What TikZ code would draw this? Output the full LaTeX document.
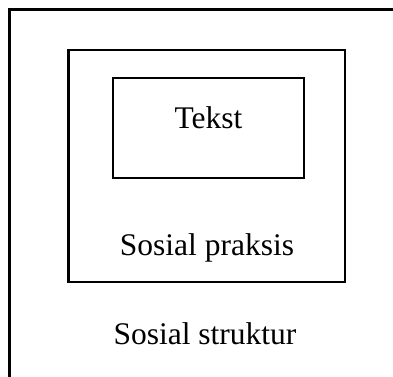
\documentclass[tikz,border=0pt]{standalone}
\usepackage{fontspec}
\setmainfont{Liberation Serif}
\begin{document}
\begin{tikzpicture}[x=1pt,y=-1pt,
  frame/.style={draw=black,line width=2.2pt},
  label/.style={anchor=base,inner sep=0pt,font=\fontsize{31.5}{36}\selectfont}]
  \useasboundingbox (0,0) rectangle (393,376);
  \clip (0,0) rectangle (393,376);
  % outer level: social structure (runs past the page edge)
  \draw[frame] (9.5,9.5) rectangle (420,420);
  % middle level: social practice
  \draw[frame] (68.5,50) rectangle (345,282);
  % inner level: text
  \draw[frame] (113,78) rectangle (304,178);
  \node[label] (tekst) at (208.5,128) {Tekst};
  \node[label] (praksis) at (207,255) {Sosial praksis};
  \node[label] (struktur) at (205,344) {Sosial struktur};
\end{tikzpicture}
\end{document}
